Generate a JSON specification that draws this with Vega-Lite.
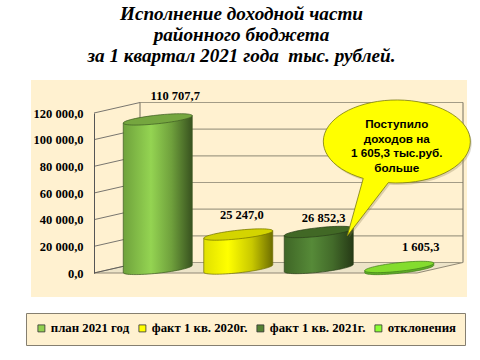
{"$schema":"https://vega.github.io/schema/vega-lite/v6.json","autosize":"none","width":369,"height":160,"padding":{"left":94,"top":113,"right":17,"bottom":87},"background":"white",
"config":{"view":{"stroke":null},"locale":{"number":{"decimal":",","thousands":" ","grouping":[3],"currency":["",""]}}},
"title":{"text":["Исполнение доходной части","районного бюджета","за 1 квартал 2021 года \u00a0тыс. рублей."],"font":"Liberation Serif","fontSize":19.2,"fontStyle":"italic","fontWeight":"bold","color":"#000000","anchor":"middle","dx":-37,"offset":-5,"lineHeight":21,"baseline":"bottom"},
"datasets":{"bars":[{"series":"план 2021 год","value":110707.7},{"series":"факт 1 кв. 2020г.","value":25247.0},{"series":"факт 1 кв. 2021г.","value":26852.3},{"series":"отклонения","value":1605.3}],
"ticks":[{"v":0},{"v":20000},{"v":40000},{"v":60000},{"v":80000},{"v":100000},{"v":120000}],
"note":[{"series":"факт 1 кв. 2021г.","value":26852.3,"note":"Поступило\nдоходов на\n1 605,3 тыс.руб.\nбольше"}]},
"encoding":{"x":{"field":"series","type":"nominal","sort":null,"axis":null,"scale":{"type":"band","domain":["план 2021 год","факт 1 кв. 2020г.","факт 1 кв. 2021г.","отклонения"],"paddingInner":0,"paddingOuter":0.292}},
"y":{"field":"value","type":"quantitative","title":null,"scale":{"domain":[0,120000],"nice":false},"axis":{"values":[0,20000,40000,60000,80000,100000,120000],"format":",.1f","ticks":false,"grid":false,"labelPadding":11,"labelFont":"Liberation Serif","labelFontSize":12.5,"labelFontWeight":"bold","labelColor":"#000000","domainColor":"#555555","domainWidth":1,"zindex":1}}},
"layer":[
{"data":{"name":"ticks"},"transform":[{"filter":"datum.v==0"}],"mark":{"type":"point","size":4,"filled":true,"opacity":1,"fill":"#FFF1D0","stroke":null,"shape":"M-63 -193L373 -193L373 24L-63 24Z"},"encoding":{"x":{"value":0},"y":{"field":"v","type":"quantitative"}}},
{"data":{"name":"ticks"},"transform":[{"filter":"datum.v==0"}],"mark":{"type":"point","size":4,"filled":true,"opacity":1,"fill":"#EDE4C8","stroke":"#777060","strokeWidth":0.8,"shape":"M0 0L46 -10.5L369 -10.5L323 0Z"},"encoding":{"x":{"value":0},"y":{"field":"v","type":"quantitative"}}},
{"data":{"name":"ticks"},"mark":{"type":"point","size":4,"filled":false,"opacity":1,"stroke":"#A39C86","strokeWidth":1.2,"shape":"M46 -10.5L369 -10.5"},"encoding":{"x":{"value":0},"y":{"field":"v","type":"quantitative"}}},
{"data":{"name":"ticks"},"mark":{"type":"point","size":4,"filled":false,"opacity":1,"stroke":"#555555","strokeWidth":0.8,"shape":"M0 0L46 -10.5"},"encoding":{"x":{"value":0},"y":{"field":"v","type":"quantitative"}}},
{"data":{"name":"ticks"},"transform":[{"filter":"datum.v==0"}],"mark":{"type":"point","size":4,"filled":false,"opacity":1,"stroke":"#777060","strokeWidth":1,"shape":"M46 -10.5L46 -170.5M369 -10.5L369 -170.5"},"encoding":{"x":{"value":0},"y":{"field":"v","type":"quantitative"}}},
{"data":{"name":"ticks"},"transform":[{"filter":"datum.v==0"}],"mark":{"type":"text","text":"1","font":"Liberation Sans","fontSize":7,"color":"#BBBBBB","dy":71},"encoding":{"x":{"value":347},"y":{"field":"v","type":"quantitative"}}},
{"data":{"name":"bars"},"mark":{"type":"point","size":4,"filled":true,"opacity":1,"shape":"square"},"encoding":{
"color":{"field":"series","type":"nominal","sort":null,"scale":{"domain":["план 2021 год","факт 1 кв. 2020г.","факт 1 кв. 2021г.","отклонения"],"range":["#92D050","#FFFF00","#558234","#8CFF33"]},"legend":{"title":null,"orient":"none","legendX":-68,"legendY":200,"direction":"horizontal","columns":4,"gridAlign":"none","symbolType":"square","symbolSize":49,"symbolStrokeColor":"#333333","symbolStrokeWidth":0.8,"symbolOpacity":1,"labelFont":"Liberation Serif","labelFontSize":12.8,"labelFontWeight":"bold","labelColor":"#000000","labelOffset":3,"labelLimit":200,"columnPadding":6,"padding":9,"fillColor":"#FFF1D0","strokeColor":"#857F70"}}}},
{"data":{"name":"bars"},"transform":[{"filter":"datum.series=='план 2021 год'"}],"mark":{"type":"point","size":4,"filled":true,"opacity":1,"stroke":"#3E5A22","strokeWidth":0.7,"shape":"M-34.5 -2.25L-34.5 147.25A34.7 4.3 -6.2 0 0 34.5 139.75L34.5 -9.75Z","fill":{"gradient":"linear","x1":0,"x2":1,"y1":0,"y2":0,"stops":[{"offset":0,"color":"#6FA23C"},{"offset":0.4,"color":"#94D452"},{"offset":0.7,"color":"#6FA03C"},{"offset":1,"color":"#38521F"}]}}},
{"data":{"name":"bars"},"transform":[{"filter":"datum.series=='план 2021 год'"}],"mark":{"type":"point","size":4,"filled":true,"opacity":1,"stroke":"#3E5A22","strokeWidth":0.7,"fill":"#75A63F","shape":"M-34.5 -2.25A34.7 4.3 -6.2 0 1 34.5 -9.75A34.7 4.3 -6.2 0 1 -34.5 -2.25Z"}},
{"data":{"name":"bars"},"transform":[{"filter":"datum.series=='план 2021 год'"}],"mark":{"type":"text","dx":17.5,"dy":-29,"font":"Liberation Serif","fontSize":12.5,"fontWeight":"bold","color":"#000000","baseline":"middle"},"encoding":{"text":{"field":"value","type":"quantitative","format":",.1f"}}},
{"data":{"name":"bars"},"transform":[{"filter":"datum.series=='факт 1 кв. 2020г.'"}],"mark":{"type":"point","size":4,"filled":true,"opacity":1,"stroke":"#6E6E00","strokeWidth":0.7,"shape":"M-34.5 -1.05L-34.5 32.95A34.7 4.3 -6.2 0 0 34.5 25.45L34.5 -8.55Z","fill":{"gradient":"linear","x1":0,"x2":1,"y1":0,"y2":0,"stops":[{"offset":0,"color":"#E0E000"},{"offset":0.35,"color":"#FFFF00"},{"offset":0.7,"color":"#C8C800"},{"offset":1,"color":"#6E6E00"}]}}},
{"data":{"name":"bars"},"transform":[{"filter":"datum.series=='факт 1 кв. 2020г.'"}],"mark":{"type":"point","size":4,"filled":true,"opacity":1,"stroke":"#6E6E00","strokeWidth":0.7,"fill":"#D4D400","shape":"M-34.5 -1.05A34.7 4.3 -6.2 0 1 34.5 -8.55A34.7 4.3 -6.2 0 1 -34.5 -1.05Z"}},
{"data":{"name":"bars"},"transform":[{"filter":"datum.series=='факт 1 кв. 2020г.'"}],"mark":{"type":"text","dx":3.5,"dy":-24,"font":"Liberation Serif","fontSize":12.5,"fontWeight":"bold","color":"#000000","baseline":"middle"},"encoding":{"text":{"field":"value","type":"quantitative","format":",.1f"}}},
{"data":{"name":"bars"},"transform":[{"filter":"datum.series=='факт 1 кв. 2021г.'"}],"mark":{"type":"point","size":4,"filled":true,"opacity":1,"stroke":"#2A3F18","strokeWidth":0.7,"shape":"M-34.5 -1.45L-34.5 34.55A34.7 4.3 -6.2 0 0 34.5 27.05L34.5 -8.95Z","fill":{"gradient":"linear","x1":0,"x2":1,"y1":0,"y2":0,"stops":[{"offset":0,"color":"#3F6626"},{"offset":0.4,"color":"#568A38"},{"offset":0.7,"color":"#436B2A"},{"offset":1,"color":"#263A16"}]}}},
{"data":{"name":"bars"},"transform":[{"filter":"datum.series=='факт 1 кв. 2021г.'"}],"mark":{"type":"point","size":4,"filled":true,"opacity":1,"stroke":"#2A3F18","strokeWidth":0.7,"fill":"#416825","shape":"M-34.5 -1.45A34.7 4.3 -6.2 0 1 34.5 -8.95A34.7 4.3 -6.2 0 1 -34.5 -1.45Z"}},
{"data":{"name":"bars"},"transform":[{"filter":"datum.series=='факт 1 кв. 2021г.'"}],"mark":{"type":"text","dx":5,"dy":-19.5,"font":"Liberation Serif","fontSize":12.5,"fontWeight":"bold","color":"#000000","baseline":"middle"},"encoding":{"text":{"field":"value","type":"quantitative","format":",.1f"}}},
{"data":{"name":"bars"},"transform":[{"filter":"datum.series=='отклонения'"}],"mark":{"type":"point","size":4,"filled":true,"opacity":1,"stroke":"#3F7A18","strokeWidth":0.7,"fill":"#5FAE28","shape":"M-34.5 -0.15L-34.5 1.85A34.7 4.3 -6.2 0 0 34.5 -5.65L34.5 -7.65Z"}},
{"data":{"name":"bars"},"transform":[{"filter":"datum.series=='отклонения'"}],"mark":{"type":"point","size":4,"filled":true,"opacity":1,"stroke":"#3F7A18","strokeWidth":0.7,"fill":"#84DC2E","shape":"M-34.5 -0.15A34.7 4.3 -6.2 0 1 34.5 -7.65A34.7 4.3 -6.2 0 1 -34.5 -0.15Z"}},
{"data":{"name":"bars"},"transform":[{"filter":"datum.series=='отклонения'"}],"mark":{"type":"text","dx":21.5,"dy":-24,"font":"Liberation Serif","fontSize":12.5,"fontWeight":"bold","color":"#000000","baseline":"middle"},"encoding":{"text":{"field":"value","type":"quantitative","format":",.1f"}}},
{"data":{"name":"note"},"mark":{"type":"point","size":4,"filled":true,"opacity":0.3,"fill":"#8A7F50","stroke":null,"shape":"M46 -56.8L30 0.8L71 -52.5A73.5 41.5 0 1 0 46 -56.8Z"}},
{"data":{"name":"note"},"mark":{"type":"point","size":4,"filled":true,"opacity":1,"fill":"#FFFF00","stroke":"#7A7A10","strokeWidth":0.8,"shape":"M44.5 -58.8L28.5 -1.2L69.5 -54.5A73.5 41.5 0 1 0 44.5 -58.8Z"}},
{"data":{"name":"note"},"mark":{"type":"text","dx":78,"dy":-113,"font":"Liberation Sans","fontSize":11.7,"fontWeight":"bold","color":"#000000","lineBreak":"\n","lineHeight":14.5,"baseline":"middle","align":"center"},"encoding":{"text":{"field":"note","type":"nominal"}}}
]}
